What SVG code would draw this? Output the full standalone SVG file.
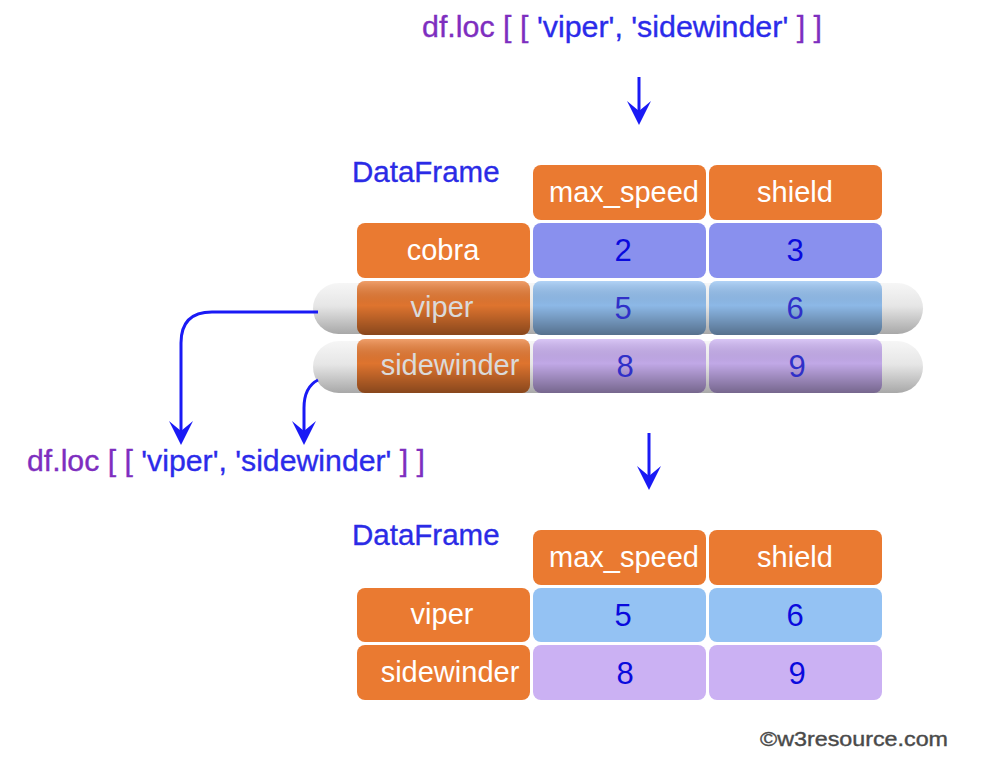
<svg xmlns="http://www.w3.org/2000/svg" width="1008" height="774" viewBox="0 0 1008 774">
<defs>
<style>
text{font-family:"Liberation Sans",Arial,Helvetica,sans-serif}
.code{font-size:30px;stroke-width:0.35px}
.pur{fill:#7E2EBF;stroke:#7E2EBF}
.blu{fill:#2B2BEA;stroke:#2B2BEA}
.df{font-size:29.5px;fill:#2B2BE6;stroke:#2B2BE6;stroke-width:0.35px}
.hd{fill:#EA7A31}
.lbl{font-size:29px;fill:#ffffff;text-anchor:middle}
.lbld{font-size:29px;fill:#dadada;text-anchor:middle}
.num{font-size:31px;fill:#0A0ADD;text-anchor:middle}
.numd{font-size:31px;fill:#3030C8;text-anchor:middle}
.c1{fill:#8990EE}
.c2{fill:#94C2F3}
.c3{fill:#CBB1F3}
.ov{fill:url(#shade)}
.cap{fill:url(#capg)}
.conn{fill:none;stroke:#1A1AF5;stroke-width:3;marker-end:url(#ah)}
.copy{font-size:21px;fill:#4a4a4a;stroke:#4a4a4a;stroke-width:0.4px}
</style>
<linearGradient id="shade" x1="0" y1="0" x2="0" y2="1">
<stop offset="0" stop-color="#ffffff" stop-opacity="0.28"/>
<stop offset="0.45" stop-color="#000000" stop-opacity="0.05"/>
<stop offset="1" stop-color="#000000" stop-opacity="0.42"/>
</linearGradient>
<linearGradient id="capg" x1="0" y1="0" x2="0" y2="1">
<stop offset="0" stop-color="#f6f6f6"/>
<stop offset="0.45" stop-color="#e6e6e6"/>
<stop offset="1" stop-color="#a8a8a8"/>
</linearGradient>
<marker id="ah" markerUnits="userSpaceOnUse" viewBox="0 0 24 24" refX="18" refY="12" markerWidth="24" markerHeight="24" orient="auto">
<path d="M0,0 L24,12 L0,24 L10,12 Z" fill="#1A1AF5"/>
</marker>
</defs>
<rect width="1008" height="774" fill="#ffffff"/>

<g id="query-top">
<text class="code" x="422" y="37" textLength="400" lengthAdjust="spacingAndGlyphs"><tspan class="pur">df.loc [ [ </tspan><tspan class="blu">'viper', 'sidewinder'</tspan><tspan class="pur"> ] ]</tspan></text>
</g>

<g id="df-top">
<text class="df" x="352" y="182">DataFrame</text>
<g id="top-header">
<rect class="hd" x="533" y="165" width="173" height="55" rx="8"/>
<rect class="hd" x="709" y="165" width="173" height="55" rx="8"/>
<text class="lbl" x="624" y="202">max_speed</text>
<text class="lbl" x="795" y="202">shield</text>
</g>
<g id="top-cobra">
<rect class="hd" x="357" y="223" width="173" height="55" rx="8"/>
<rect class="c1" x="533" y="223" width="173" height="55" rx="8"/>
<rect class="c1" x="709" y="223" width="173" height="55" rx="8"/>
<text class="lbl" x="443" y="260">cobra</text>
<text class="num" x="623" y="261">2</text>
<text class="num" x="795" y="261">3</text>
</g>
<g id="top-viper">
<rect class="cap" x="313" y="283" width="610" height="51" rx="25.5"/>
<rect class="hd" x="357" y="281" width="173" height="54" rx="8"/>
<rect class="c2" x="533" y="281" width="173" height="54" rx="8"/>
<rect class="c2" x="709" y="281" width="173" height="54" rx="8"/>
<rect class="ov" x="357" y="281" width="173" height="54" rx="8"/>
<rect class="ov" x="533" y="281" width="173" height="54" rx="8"/>
<rect class="ov" x="709" y="281" width="173" height="54" rx="8"/>
<text class="lbld" x="442" y="317">viper</text>
<text class="numd" x="623" y="319">5</text>
<text class="numd" x="795" y="319">6</text>
</g>
<g id="top-sidewinder">
<rect class="cap" x="313" y="341" width="610" height="52" rx="26"/>
<rect class="hd" x="357" y="339" width="173" height="54" rx="8"/>
<rect class="c3" x="533" y="339" width="173" height="54" rx="8"/>
<rect class="c3" x="709" y="339" width="173" height="54" rx="8"/>
<rect class="ov" x="357" y="339" width="173" height="54" rx="8"/>
<rect class="ov" x="533" y="339" width="173" height="54" rx="8"/>
<rect class="ov" x="709" y="339" width="173" height="54" rx="8"/>
<text class="lbld" x="450" y="375">sidewinder</text>
<text class="numd" x="625" y="377">8</text>
<text class="numd" x="797" y="377">9</text>
</g>
</g>

<g id="query-left">
<text class="code" x="27" y="471" textLength="398" lengthAdjust="spacingAndGlyphs"><tspan class="pur">df.loc [ [ </tspan><tspan class="blu">'viper', 'sidewinder'</tspan><tspan class="pur"> ] ]</tspan></text>
</g>

<g id="df-bottom">
<text class="df" x="352" y="545">DataFrame</text>
<g id="bottom-header">
<rect class="hd" x="533" y="530" width="173" height="55" rx="8"/>
<rect class="hd" x="709" y="530" width="173" height="55" rx="8"/>
<text class="lbl" x="624" y="567">max_speed</text>
<text class="lbl" x="795" y="567">shield</text>
</g>
<g id="bottom-viper">
<rect class="hd" x="357" y="588" width="173" height="54" rx="8"/>
<rect class="c2" x="533" y="588" width="173" height="54" rx="8"/>
<rect class="c2" x="709" y="588" width="173" height="54" rx="8"/>
<text class="lbl" x="442" y="624">viper</text>
<text class="num" x="623" y="626">5</text>
<text class="num" x="795" y="626">6</text>
</g>
<g id="bottom-sidewinder">
<rect class="hd" x="357" y="645" width="173" height="55" rx="8"/>
<rect class="c3" x="533" y="645" width="173" height="55" rx="8"/>
<rect class="c3" x="709" y="645" width="173" height="55" rx="8"/>
<text class="lbl" x="450" y="682">sidewinder</text>
<text class="num" x="625" y="684">8</text>
<text class="num" x="797" y="684">9</text>
</g>
</g>

<g id="connectors">
<path class="conn" d="M639,77 V119"/>
<path class="conn" d="M649,433 V484"/>
<path class="conn" d="M318,312 H212 Q181,312 181,343 V439"/>
<path class="conn" d="M318,380 C308,385 304,395 304,408 V439"/>
</g>

<g id="copyright">
<text class="copy" x="760" y="746" textLength="188" lengthAdjust="spacingAndGlyphs">©w3resource.com</text>
</g>
</svg>
